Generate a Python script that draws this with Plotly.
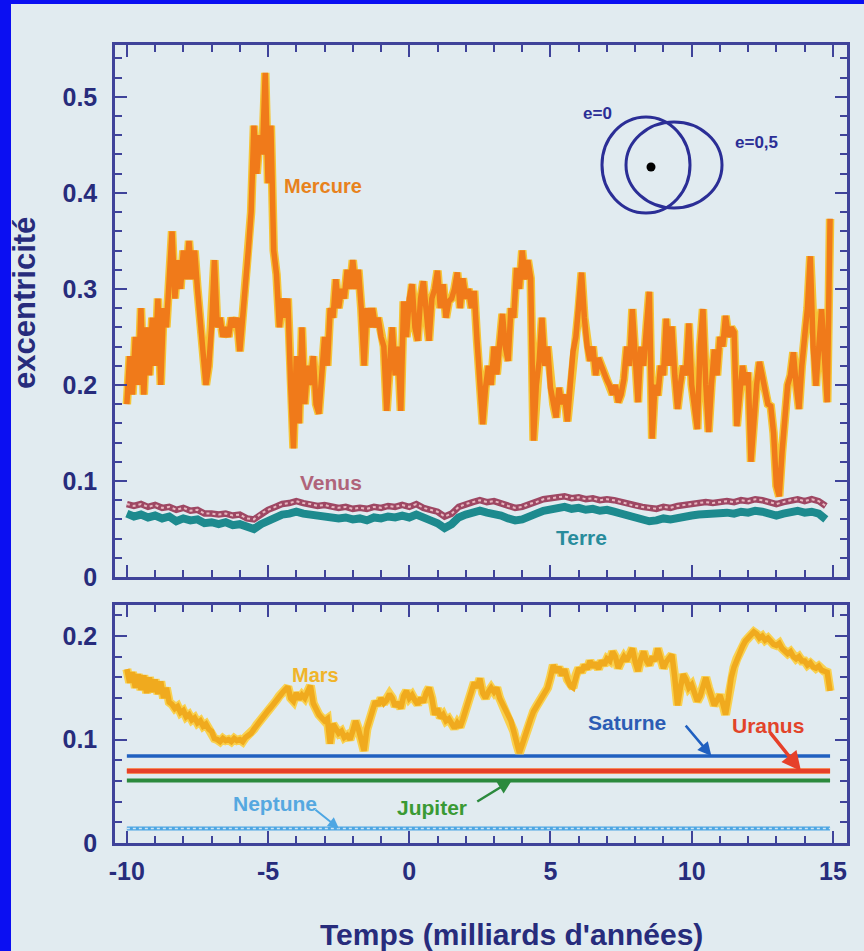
import numpy as np
import plotly.graph_objects as go

# ---------------------------------------------------------------- data
# time axis (billions of years), shared by every planet curve
t_fine = np.round(np.arange(-10.0, 14.95, 0.1), 1)      # 250 samples
t_coarse = np.round(np.arange(-10.0, 14.8, 0.25), 2)    # 100 samples

mercure = [
    0.18, 0.23, 0.19, 0.25, 0.20, 0.28, 0.19, 0.26, 0.21, 0.27,
    0.22, 0.29, 0.20, 0.28, 0.26, 0.31, 0.36, 0.29, 0.33, 0.30,
    0.34, 0.31, 0.35, 0.31, 0.34, 0.30, 0.27, 0.23, 0.20, 0.22,
    0.26, 0.33, 0.26, 0.27, 0.25, 0.26, 0.25, 0.27, 0.26, 0.27,
    0.235, 0.27, 0.30, 0.34, 0.38, 0.47, 0.42, 0.46, 0.44, 0.525,
    0.41, 0.47, 0.34, 0.315, 0.26, 0.29, 0.27, 0.29, 0.20, 0.134,
    0.23, 0.16, 0.26, 0.18, 0.22, 0.20, 0.23, 0.18, 0.17, 0.22,
    0.25, 0.22, 0.28, 0.27, 0.31, 0.28, 0.30, 0.29, 0.32, 0.30,
    0.33, 0.30, 0.32, 0.28, 0.22, 0.28, 0.26, 0.28, 0.26, 0.27,
    0.25, 0.24, 0.173, 0.22, 0.26, 0.21, 0.24, 0.173, 0.287, 0.25,
    0.29, 0.305, 0.26, 0.246, 0.29, 0.308, 0.27, 0.246, 0.29, 0.30,
    0.319, 0.28, 0.305, 0.27, 0.287, 0.29, 0.30, 0.317, 0.28, 0.311,
    0.29, 0.30, 0.28, 0.298, 0.246, 0.20, 0.159, 0.197, 0.22, 0.20,
    0.24, 0.211, 0.25, 0.274, 0.24, 0.225, 0.28, 0.27, 0.322, 0.30,
    0.34, 0.31, 0.33, 0.311, 0.142, 0.20, 0.225, 0.27, 0.22, 0.24,
    0.197, 0.18, 0.166, 0.197, 0.18, 0.19, 0.162, 0.20, 0.235, 0.25,
    0.28, 0.317, 0.27, 0.24, 0.225, 0.24, 0.21, 0.228, 0.22, 0.21,
    0.205, 0.199, 0.19, 0.20, 0.182, 0.19, 0.206, 0.24, 0.22, 0.279,
    0.22, 0.182, 0.24, 0.22, 0.26, 0.297, 0.144, 0.20, 0.189, 0.22,
    0.21, 0.269, 0.22, 0.261, 0.21, 0.175, 0.20, 0.22, 0.21, 0.264,
    0.20, 0.18, 0.154, 0.24, 0.279, 0.20, 0.151, 0.20, 0.237, 0.21,
    0.25, 0.24, 0.272, 0.25, 0.26, 0.255, 0.157, 0.19, 0.22, 0.20,
    0.213, 0.12, 0.17, 0.20, 0.224, 0.21, 0.19, 0.18, 0.178, 0.15,
    0.095, 0.084, 0.13, 0.172, 0.20, 0.21, 0.234, 0.20, 0.175, 0.22,
    0.25, 0.28, 0.334, 0.24, 0.199, 0.25, 0.279, 0.23, 0.182, 0.373,
]

venus = [
    0.076, 0.074, 0.076, 0.073, 0.075, 0.072, 0.073, 0.070,
    0.072, 0.069, 0.070, 0.066, 0.066, 0.065, 0.066, 0.064,
    0.065, 0.061, 0.060, 0.066, 0.070, 0.073, 0.076, 0.077,
    0.079, 0.077, 0.076, 0.074, 0.075, 0.073, 0.072, 0.073,
    0.071, 0.072, 0.071, 0.073, 0.072, 0.074, 0.073, 0.075,
    0.073, 0.076, 0.072, 0.070, 0.068, 0.063, 0.066, 0.073,
    0.076, 0.078, 0.080, 0.078, 0.079, 0.077, 0.074, 0.072,
    0.073, 0.076, 0.078, 0.081, 0.082, 0.083, 0.084, 0.082,
    0.083, 0.081, 0.082, 0.080, 0.081, 0.080, 0.078, 0.076,
    0.074, 0.073, 0.072, 0.071, 0.073, 0.072, 0.074, 0.075,
    0.076, 0.077, 0.078, 0.077, 0.078, 0.079, 0.078, 0.080,
    0.079, 0.081, 0.080, 0.078, 0.076, 0.078, 0.080, 0.081,
    0.079, 0.081, 0.079, 0.074,
]

terre = [
    0.066, 0.063, 0.065, 0.062, 0.064, 0.061, 0.063, 0.058,
    0.061, 0.059, 0.060, 0.056, 0.057, 0.055, 0.057, 0.054,
    0.055, 0.052, 0.050, 0.055, 0.059, 0.062, 0.065, 0.066,
    0.068, 0.066, 0.065, 0.063, 0.064, 0.062, 0.061, 0.062,
    0.060, 0.061, 0.059, 0.062, 0.061, 0.063, 0.062, 0.064,
    0.062, 0.065, 0.061, 0.059, 0.056, 0.051, 0.055, 0.062,
    0.065, 0.067, 0.069, 0.067, 0.066, 0.064, 0.061, 0.059,
    0.060, 0.064, 0.066, 0.069, 0.071, 0.072, 0.073, 0.071,
    0.072, 0.070, 0.071, 0.069, 0.070, 0.068, 0.066, 0.064,
    0.062, 0.060, 0.058, 0.059, 0.061, 0.060, 0.062, 0.063,
    0.064, 0.065, 0.066, 0.065, 0.066, 0.067, 0.066, 0.068,
    0.067, 0.069, 0.068, 0.066, 0.064, 0.066, 0.068, 0.069,
    0.067, 0.068, 0.066, 0.060,
]

mars = [
    0.168, 0.155, 0.165, 0.150, 0.163, 0.148, 0.162, 0.145, 0.160, 0.146,
    0.158, 0.144, 0.156, 0.140, 0.150, 0.136, 0.134, 0.130, 0.132, 0.126,
    0.128, 0.122, 0.124, 0.119, 0.121, 0.116, 0.118, 0.113, 0.115, 0.110,
    0.108, 0.101, 0.100, 0.098, 0.101, 0.099, 0.100, 0.098, 0.101, 0.099,
    0.100, 0.098, 0.102, 0.104, 0.106, 0.110, 0.114, 0.117, 0.121, 0.124,
    0.128, 0.131, 0.135, 0.138, 0.142, 0.145, 0.148, 0.151, 0.140, 0.137,
    0.145, 0.139, 0.143, 0.140, 0.146, 0.152, 0.135, 0.128, 0.124, 0.121,
    0.118, 0.120, 0.096, 0.115, 0.110, 0.106, 0.108, 0.102, 0.104, 0.100,
    0.108, 0.118, 0.110, 0.100, 0.089, 0.110, 0.121, 0.128, 0.137, 0.133,
    0.140, 0.135, 0.138, 0.144, 0.140, 0.132, 0.136, 0.130, 0.142, 0.147,
    0.140, 0.143, 0.138, 0.134, 0.140, 0.136, 0.145, 0.150, 0.140, 0.124,
    0.130, 0.121, 0.124, 0.118, 0.120, 0.114, 0.111, 0.116, 0.112, 0.120,
    0.130, 0.140, 0.148, 0.155, 0.150, 0.159, 0.145, 0.140, 0.146, 0.150,
    0.146, 0.150, 0.140, 0.134, 0.130, 0.124, 0.118, 0.108, 0.096, 0.087,
    0.095, 0.104, 0.114, 0.120, 0.127, 0.132, 0.137, 0.142, 0.146, 0.150,
    0.160, 0.172, 0.165, 0.170, 0.162, 0.168, 0.158, 0.152, 0.150, 0.162,
    0.169, 0.165, 0.172, 0.168, 0.176, 0.170, 0.174, 0.168, 0.176, 0.172,
    0.178, 0.176, 0.185, 0.180, 0.169, 0.175, 0.180, 0.176, 0.184, 0.188,
    0.175, 0.166, 0.178, 0.185, 0.176, 0.172, 0.180, 0.176, 0.188, 0.178,
    0.169, 0.175, 0.178, 0.182, 0.160, 0.133, 0.150, 0.163, 0.158, 0.150,
    0.153, 0.145, 0.137, 0.142, 0.150, 0.160, 0.150, 0.140, 0.133, 0.138,
    0.143, 0.135, 0.124, 0.140, 0.160, 0.170, 0.178, 0.185, 0.190, 0.195,
    0.198, 0.200, 0.204, 0.202, 0.198, 0.200, 0.196, 0.198, 0.194, 0.192,
    0.191, 0.193, 0.188, 0.186, 0.183, 0.185, 0.180, 0.178, 0.180, 0.176,
    0.176, 0.172, 0.174, 0.170, 0.169, 0.171, 0.167, 0.166, 0.165, 0.147,
]

# the outer planets barely move: one eccentricity level each
t_span = [-10.0, 14.9]
saturne = [0.084, 0.084]
uranus = [0.0695, 0.0695]
jupiter = [0.0605, 0.0605]
neptune = [0.014, 0.014]

x_tick_vals = [-10, -5, 0, 5, 10, 15]
x_tick_text = ["-10", "-5", "0", "5", "10", "15"]

# ---------------------------------------------------------------- style
W, H = 864, 951
BG = "#e1ebf0"
FRAME = "#3f439a"
INK = "#272c7c"
FONT = "Liberation Sans"


def px(x):
    return x / W


def py(y):
    return 1 - y / H


fig = go.Figure()


def line(x, y, color, width, axes, dash=None):
    xa, ya = axes
    fig.add_trace(go.Scatter(
        x=x, y=y, mode="lines", xaxis=xa, yaxis=ya, hoverinfo="skip",
        line=dict(color=color, width=width, dash=dash), showlegend=False))


top = ("x", "y")
bot = ("x2", "y2")

# upper panel: inner planets
line(t_coarse, terre, "#1d8a8e", 8, top)
line(t_coarse, venus, "#9e4763", 6.5, top)
line(t_coarse, venus, "#e7b7c0", 2, top, dash="dot")
line(t_fine, mercure, "#f6c436", 8.5, top)
line(t_fine, mercure, "#f07a1a", 5.5, top)

# lower panel: Mars and the giants
line(t_span, neptune, "#4da6e3", 4, bot)
line(t_span, neptune, "#cfe5f4", 1.4, bot, dash="dot")
line(t_span, jupiter, "#2b8a3d", 4, bot)
line(t_span, uranus, "#f58a5a", 6, bot)
line(t_span, uranus, "#e6402a", 4, bot)
line(t_span, saturne, "#2060c0", 3.5, bot)
line(t_fine, mars, "#f9d150", 9, bot)
line(t_fine, mars, "#f0aa1e", 5.5, bot)

# empty traces so the tick-only companion axes get drawn
for xa, ya in (("x3", "y3"), ("x4", "y4")):
    fig.add_trace(go.Scatter(x=[], y=[], xaxis=xa, yaxis=ya,
                             mode="lines", showlegend=False,
                             hoverinfo="skip"))

x_dom = [px(115), px(847)]
x_rng = [-10.42, 15.5]
top_dom = [py(577), py(45)]
bot_dom = [py(843), py(605)]
top_rng = [0, 0.554]
bot_rng = [0, 0.23]

common = dict(
    showline=True, linecolor=FRAME, linewidth=2.5, mirror="allticks",
    ticks="inside", tickcolor=FRAME, tickwidth=2, ticklen=12,
    showgrid=False, zeroline=False, automargin=False,
    tickfont=dict(family=FONT, size=25, color=INK, weight="bold"),
)
x_minor = dict(ticks="inside", ticklen=7, tickwidth=2, tickcolor=FRAME,
               dtick=1, tick0=0, showgrid=False)
y_minor = dict(ticks="inside", ticklen=7, tickwidth=2, tickcolor=FRAME,
               dtick=0.02, tick0=0, showgrid=False)

# tick-only companions on the top and right edges of each panel
mirror_ax = dict(showline=False, ticks="inside", tickcolor=FRAME,
                 tickwidth=2, ticklen=12, showgrid=False, zeroline=False,
                 showticklabels=False, automargin=False)

fig.update_layout(
    width=W, height=H,
    margin=dict(l=0, r=0, t=0, b=0, pad=0, autoexpand=False),
    paper_bgcolor=BG, plot_bgcolor="rgba(0,0,0,0)",
    showlegend=False,
    xaxis=dict(common, domain=x_dom, range=x_rng, anchor="y",
               tickvals=x_tick_vals, showticklabels=False, minor=x_minor),
    yaxis=dict(common, domain=top_dom, range=top_rng,
               anchor="x", dtick=0.1, tick0=0, ticklabelstandoff=10,
               minor=y_minor),
    xaxis2=dict(common, domain=x_dom, range=x_rng, anchor="y2",
                tickvals=x_tick_vals, ticktext=x_tick_text,
                ticklabelstandoff=4, minor=x_minor),
    yaxis2=dict(common, domain=bot_dom, range=bot_rng,
                anchor="x2", dtick=0.1, tick0=0, ticklabelstandoff=10,
                minor=y_minor),
    xaxis3=dict(mirror_ax, domain=x_dom, anchor="y3", side="top",
                range=x_rng, tickvals=x_tick_vals, minor=x_minor),
    yaxis3=dict(mirror_ax, domain=top_dom, anchor="x3", side="right",
                range=top_rng, dtick=0.1, tick0=0, minor=y_minor),
    xaxis4=dict(mirror_ax, domain=x_dom, anchor="y4", side="top",
                range=x_rng, tickvals=x_tick_vals, minor=x_minor),
    yaxis4=dict(mirror_ax, domain=bot_dom, anchor="x4", side="right",
                range=bot_rng, dtick=0.1, tick0=0, minor=y_minor),
)

# blue frame along the left and top edges
fig.add_shape(type="rect", xref="paper", yref="paper", x0=-0.05, x1=px(11),
              y0=-0.05, y1=1.05, fillcolor="#0b0ff2", line_width=0,
              layer="above")
fig.add_shape(type="rect", xref="paper", yref="paper", x0=-0.05, x1=1.05,
              y0=py(4), y1=1.05, fillcolor="#0b0ff2", line_width=0,
              layer="above")

# orbit sketch: circle (e=0) and ellipse (e=0.5) sharing the focus
ORBIT = "#2b2e96"
fig.add_shape(type="circle", xref="paper", yref="paper",
              x0=px(602), x1=px(690), y0=py(213), y1=py(117),
              line=dict(color=ORBIT, width=3))
fig.add_shape(type="circle", xref="paper", yref="paper",
              x0=px(626), x1=px(722), y0=py(208), y1=py(122),
              line=dict(color=ORBIT, width=3))
fig.add_shape(type="circle", xref="paper", yref="paper",
              x0=px(646.5), x1=px(655.5), y0=py(171.5), y1=py(162.5),
              fillcolor="black", line=dict(color="black", width=0))


def label(text, x, y, color, size=21, angle=0):
    fig.add_annotation(text=text, xref="paper", yref="paper",
                       x=px(x), y=py(y), showarrow=False, textangle=angle,
                       xanchor="center", yanchor="middle",
                       font=dict(family=FONT, size=size, color=color,
                                 weight="bold"))


label("e=0", 597, 113, ORBIT, 17)
label("e=0,5", 756, 143, ORBIT, 17)
label("Mercure", 323, 186, "#e8821c", 20)
label("Venus", 331, 483, "#b0647a", 21)
label("Terre", 581, 537, "#288c9c", 21)
label("Mars", 315, 675, "#f0b42a", 20)
label("Saturne", 627, 722, "#2c5cb4", 21)
label("Uranus", 768, 725, "#e2442a", 21)
label("Jupiter", 432, 807, "#3a9a34", 21)
label("Neptune", 275, 803, "#55a8e0", 21)
label("excentricité", 24, 303, INK, 31, angle=-90)
label("Temps (milliards d'années)", 511, 934, INK, 30)


def pointer(x, y, ax, ay, color, width=2.5):
    fig.add_annotation(text="", xref="x2", yref="y2", x=x, y=y,
                       ax=ax, ay=ay, showarrow=True, arrowhead=2,
                       arrowsize=1.1, arrowwidth=width, arrowcolor=color,
                       standoff=0, startstandoff=0)


pointer(10.7, saturne[0], -27, -32, "#2060c0")
pointer(13.87, uranus[0], -32, -40, "#e6402a", 3.5)
pointer(3.63, jupiter[0], -36, 22, "#2b8a3d")
pointer(-2.49, neptune[0], -25, -20, "#4da6e3", 2)

fig.write_html("out.html")
